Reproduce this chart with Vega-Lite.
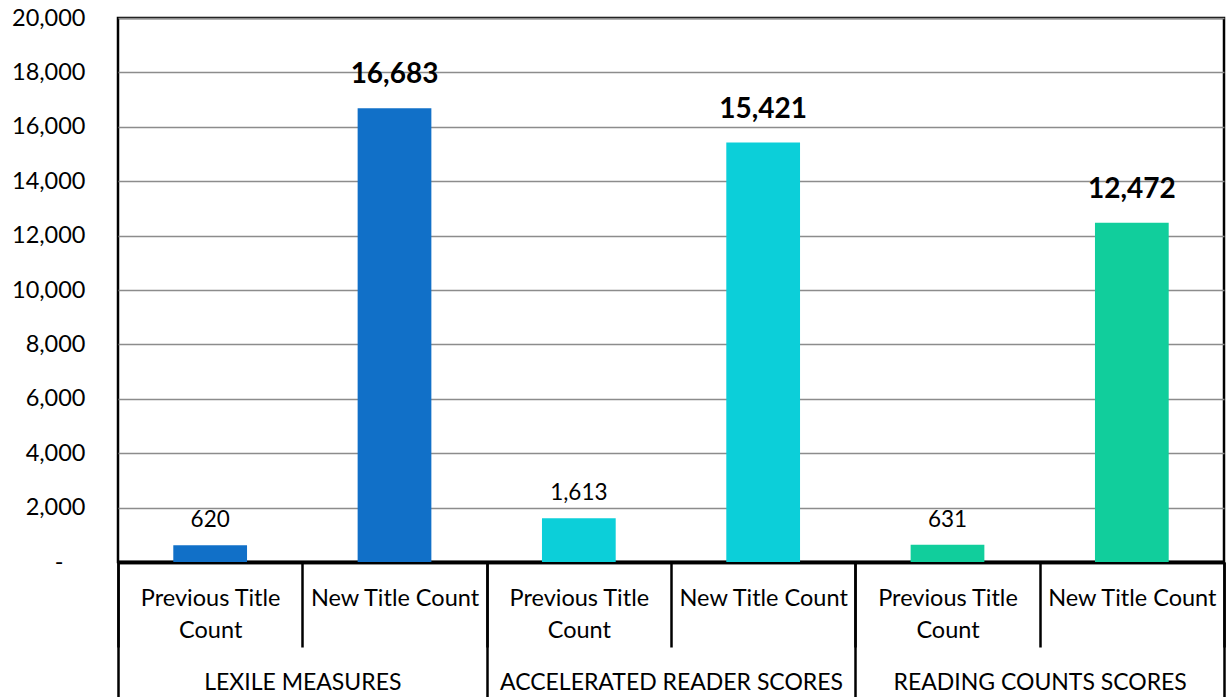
{
  "$schema": "https://vega.github.io/schema/vega-lite/v6.json",
  "width": 1106,
  "height": 544,
  "autosize": "none",
  "padding": {"left": 118, "top": 18, "right": 2, "bottom": 135},
  "background": "white",
  "config": {
    "font": "Lato",
    "view": {"stroke": "black", "strokeWidth": 2.5}
  },
  "data": {
    "values": [
      {"key": "LEXILE MEASURES|Previous Title Count", "group": "LEXILE MEASURES", "sub": "Previous Title Count", "value": 620},
      {"key": "LEXILE MEASURES|New Title Count", "group": "LEXILE MEASURES", "sub": "New Title Count", "value": 16683},
      {"key": "ACCELERATED READER SCORES|Previous Title Count", "group": "ACCELERATED READER SCORES", "sub": "Previous Title Count", "value": 1613},
      {"key": "ACCELERATED READER SCORES|New Title Count", "group": "ACCELERATED READER SCORES", "sub": "New Title Count", "value": 15421},
      {"key": "READING COUNTS SCORES|Previous Title Count", "group": "READING COUNTS SCORES", "sub": "Previous Title Count", "value": 631},
      {"key": "READING COUNTS SCORES|New Title Count", "group": "READING COUNTS SCORES", "sub": "New Title Count", "value": 12472}
    ]
  },
  "layer": [
    {
      "encoding": {
        "x": {
          "field": "key",
          "type": "nominal",
          "sort": null,
          "title": null,
          "scale": {"paddingInner": 0, "paddingOuter": 0},
          "axis": {
            "orient": "bottom",
            "labelExpr": "indexof(datum.label, 'Previous') >= 0 ? ['Previous Title', 'Count'] : (indexof(datum.label, 'New') >= 0 ? 'New Title Count' : '')",
            "labelAngle": 0,
            "labelFontSize": 23.5,
            "labelColor": "black",
            "labelLineHeight": 32,
            "labelBaseline": "top",
            "labelPadding": -61,
            "labelLimit": 300,
            "tickBand": "extent",
            "tickSize": 85,
            "tickWidth": 2.5,
            "tickColor": "black",
            "domainColor": "black",
            "domainWidth": 3.5
          }
        },
        "y": {
          "field": "value",
          "type": "quantitative",
          "title": null,
          "scale": {"domain": [0, 20000], "nice": false},
          "axis": {
            "values": [0, 2000, 4000, 6000, 8000, 10000, 12000, 14000, 16000, 18000, 20000],
            "labelExpr": "datum.value == 0 ? '-' : format(datum.value, ',')",
            "labelFontSize": 23.5,
            "labelColor": "black",
            "labelPadding": {"condition": {"test": "datum.value == 0", "value": 55}, "value": 33},
            "ticks": false,
            "domain": false,
            "grid": true,
            "gridColor": "#8c8c8c",
            "gridWidth": 1.5
          }
        }
      },
      "layer": [
        {
          "mark": {"type": "bar", "width": {"band": 0.4}},
          "encoding": {
            "color": {
              "field": "group",
              "type": "nominal",
              "legend": null,
              "scale": {
                "domain": ["LEXILE MEASURES", "ACCELERATED READER SCORES", "READING COUNTS SCORES"],
                "range": ["#1170C8", "#0CCFD9", "#11CE9C"]
              }
            }
          }
        },
        {
          "transform": [{"filter": "datum.value > 5000"}],
          "mark": {"type": "text", "baseline": "alphabetic", "dy": -25, "fontSize": 28, "fontWeight": "bold", "color": "black"},
          "encoding": {"text": {"field": "value", "type": "quantitative", "format": ","}}
        },
        {
          "transform": [{"filter": "datum.value <= 5000"}],
          "mark": {"type": "text", "baseline": "alphabetic", "dy": -18, "fontSize": 22.5, "color": "black"},
          "encoding": {"text": {"field": "value", "type": "quantitative", "format": ","}}
        }
      ]
    },
    {
      "mark": {"type": "bar", "opacity": 0},
      "encoding": {
        "x": {
          "field": "group",
          "type": "nominal",
          "sort": null,
          "title": null,
          "scale": {"paddingInner": 0, "paddingOuter": 0},
          "axis": {
            "orient": "bottom",
            "labelAngle": 0,
            "labelFontSize": 23,
            "labelColor": "black",
            "labelBaseline": "top",
            "labelPadding": -31,
            "labelLimit": 400,
            "tickBand": "extent",
            "tickSize": 140,
            "tickWidth": 2.5,
            "tickColor": "black",
            "domainColor": "black",
            "domainWidth": 3.5
          }
        }
      }
    }
  ],
  "resolve": {"scale": {"x": "independent"}}
}
